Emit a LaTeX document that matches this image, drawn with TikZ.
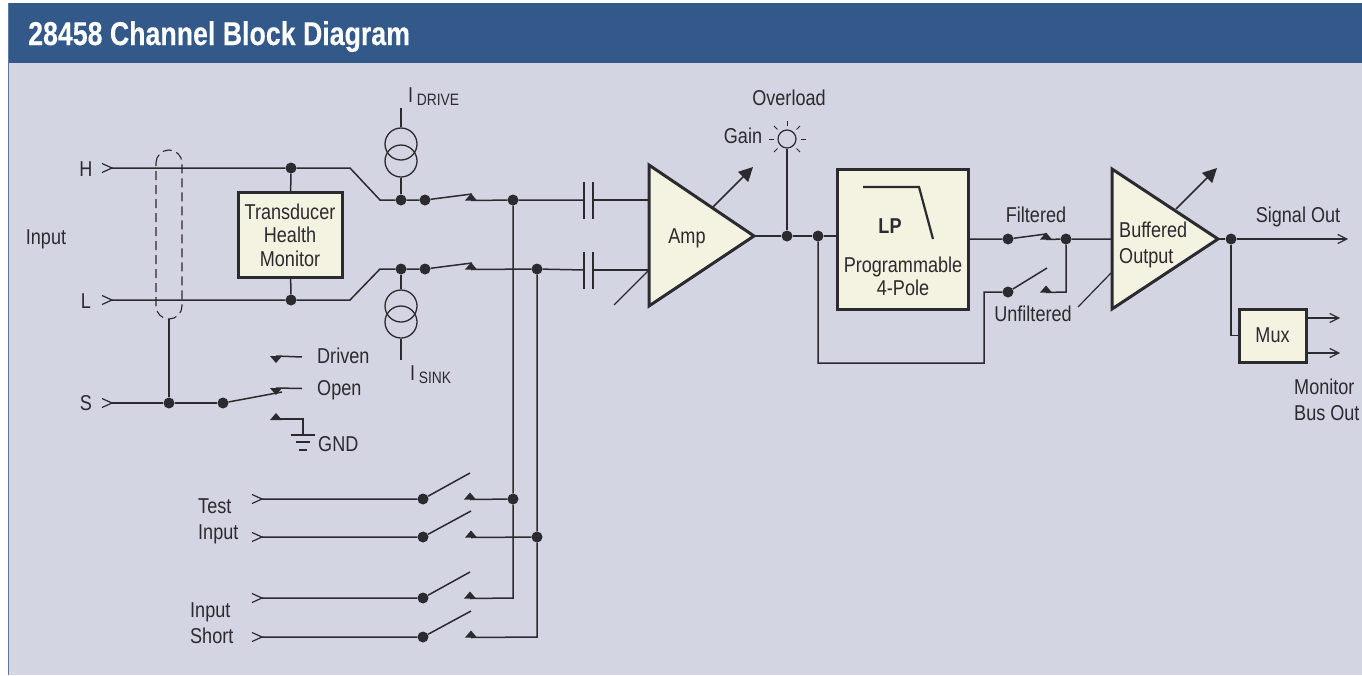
\documentclass[tikz,border=0pt]{standalone}
\usepackage{fontspec}
\setmainfont[FakeStretch=0.84]{Liberation Sans}
\newfontfamily\titlefont[FakeStretch=0.81,FakeBold=0.25]{Liberation Sans}
\usetikzlibrary{arrows.meta}
\definecolor{panelbg}{HTML}{D4D5E2}
\definecolor{headbg}{HTML}{33598A}
\definecolor{boxbg}{HTML}{F4F2E0}
\definecolor{ink}{HTML}{2B2A2E}
\tikzset{
  wire/.style={draw=ink,line width=1.5pt},
  block/.style={draw=ink,fill=boxbg,line width=3pt,line join=miter},
  dot/.style={circle,fill=ink,inner sep=0pt,minimum size=11pt},
  lbl/.style={text=ink,inner sep=0pt,font=\fontsize{21.5}{23.5}\selectfont},
  lblwide/.style={text=ink,inner sep=0pt,font=\fontsize{21.5}{26}\selectfont,align=left,anchor=west},
  source/.style={circle,draw=ink,line width=1.3pt,minimum size=32pt,inner sep=0pt},
  opentip/.style={-{Straight Barb[length=9pt,width=9pt,line width=1.2pt]}},
  filltip/.style={-{Triangle[length=14pt,width=14pt]}}
}
\begin{document}
\begin{tikzpicture}[x=1pt,y=-1pt]
  \useasboundingbox (0,0) rectangle (1362,675);
  \fill[white] (0,0) rectangle (1362,675);
  \fill[panelbg] (8,3) rectangle (1362,675);
  \fill[headbg] (8,3) rectangle (1362,63);
  \draw[headbg!80!white,line width=1pt] (8.5,3) -- (8.5,675);
  \node[anchor=base west,inner sep=0pt,text=white,font=\fontsize{33}{36}\titlefont\bfseries] (title) at (28,45) {28458 Channel Block Diagram};

  % input side
  \node[lbl] (inputlbl) at (46,239) {Input};
  \node[lbl] (hlbl) at (86,169) {H};
  \node[lbl] (llbl) at (86,301) {L};
  \node[lbl] (slbl) at (86,403) {S};
  \coordinate (hin) at (112,168);
  \coordinate (lin) at (112,300);
  \coordinate (sin) at (112,403);
  \coordinate (ta) at (262,499);
  \coordinate (tb) at (262,537);
  \coordinate (sa) at (262,598);
  \coordinate (sb) at (262,637);
  \foreach \p in {hin,lin,sin,ta,tb,sa,sb}
    \draw[ink,line width=1.2pt] (\p) ++(-10,-4.5) -- (\p) -- ++(-10,4.5);

  % shield
  \draw[ink,line width=1.1pt,dash pattern=on 9pt off 5pt] (156,163) arc[start angle=180,end angle=360,radius=13] -- (182,306) arc[start angle=0,end angle=180,radius=13] -- cycle;
  \coordinate (shield) at (169,319);

  \node[dot] (hj) at (291,168) {};
  \node[dot] (lj) at (291,300) {};
  \node[dot] (sj) at (169,403) {};
  \node[dot] (sk) at (223,403) {};
  \coordinate (hbend) at (350,168);
  \coordinate (lbend) at (350,300);
  \coordinate (hrow) at (380,200);
  \coordinate (lrow) at (380,269);
  \node[dot] (hd) at (401,200) {};
  \node[dot] (ld) at (401,269) {};
  \node[dot] (hs) at (425,200) {};
  \node[dot] (ls) at (425,269) {};
  \node[dot] (hbus) at (513,200) {};
  \node[dot] (lbus) at (537,269) {};

  \node[block,minimum width=104pt,minimum height=85pt,inner sep=0pt,lbl,align=center] (thm) at (290,235) {Transducer\\Health\\Monitor};
  \draw[wire] (hin) -- (hj) -- (hbend) -- (hrow) -- (hd) -- (hs);
  \draw[wire] (lin) -- (lj) -- (lbend) -- (lrow) -- (ld) -- (ls);
  \draw[wire] (hj) -- (thm);
  \draw[wire] (lj) -- (thm);
  \draw[wire] (shield) -- (sj);
  \draw[wire] (sin) -- (sj) -- (sk);

  % current sources
  \node[source] (da) at (401,144) {};
  \node[source] (db) at (401,161) {};
  \node[source] (sc) at (401,306) {};
  \node[source] (sd) at (401,322) {};
  \coordinate (dtop) at (401,108);
  \coordinate (send) at (401,360);
  \draw[wire] (dtop) -- (da);
  \draw[wire] (db) -- (hd);
  \draw[wire] (ld) -- (sc);
  \draw[wire] (sd) -- (send);
  \node[lbl,anchor=west] (idrive) at (408,97) {I\,\raisebox{-3pt}{\fontsize{16.5}{20}\selectfont DRIVE}};
  \node[lbl,anchor=west] (isink) at (410,375) {I\,\raisebox{-3pt}{\fontsize{16.5}{20}\selectfont SINK}};

  % contacts
  \coordinate (hc) at (471,200.5);
  \coordinate (lc) at (471,269.5);
  \coordinate (fc) at (1046,239.5);
  \coordinate (uc) at (1046,292.5);
  \coordinate (tac) at (470,499.5);
  \coordinate (tbc) at (471,537.5);
  \coordinate (sac) at (470,598.5);
  \coordinate (sbc) at (471,637.5);
  \coordinate (gc) at (276,420);
  \foreach \c in {hc,lc,fc,uc,tac,tbc,sac,sbc,gc}
    \fill[ink] (\c) ++(-6,0) -- ++(12,0) -- ++(-6,-7) -- cycle;
  \coordinate (dc) at (276,356);
  \coordinate (oc) at (276,388);
  \foreach \c in {dc,oc}
    \fill[ink] (\c) ++(-6,0) -- ++(12,0) -- ++(-6,7) -- cycle;

  % S switch
  \coordinate (sblade) at (282,392);
  \coordinate (dend) at (302,357);
  \coordinate (oend) at (302,388.5);
  \coordinate (gbend) at (303,419);
  \coordinate (gnd) at (303,435);
  \draw[wire] (sk) -- (sblade);
  \draw[wire] (dc) -- (dend);
  \draw[wire] (oc) -- (oend);
  \draw[wire] (gc) ++(0,-1) -- (gbend) -- (gnd);
  \draw[wire] (gnd) ++(-12,0) -- ++(24,0);
  \draw[wire] (gnd) ++(-7,7) -- ++(14,0);
  \draw[wire] (gnd) ++(-4,15) -- ++(8,0);
  \node[lbl,anchor=west] (drivenlbl) at (317,356) {Driven};
  \node[lbl,anchor=west] (openlbl) at (317,390) {Open};
  \node[lbl,anchor=west] (gndlbl) at (318,444) {GND};

  % test and short switches
  \node[dot] (tad) at (423,499) {};
  \node[dot] (tbd) at (423,537) {};
  \node[dot] (sad) at (423,598) {};
  \node[dot] (sbd) at (423,637) {};
  \node[dot] (tabus) at (513,499) {};
  \node[dot] (tbbus) at (537,537) {};
  \coordinate (sabus) at (513,598);
  \coordinate (sbbus) at (537,637);
  \coordinate (hblade) at (472,194);
  \coordinate (lblade) at (472,263);
  \coordinate (tablade) at (470,473);
  \coordinate (tbblade) at (471,511);
  \coordinate (sablade) at (470,572);
  \coordinate (sbblade) at (471,611);
  \draw[wire] (hs) -- (hblade);
  \draw[wire] (ls) -- (lblade);
  \draw[wire] (ta) -- (tad) -- (tablade);
  \draw[wire] (tb) -- (tbd) -- (tbblade);
  \draw[wire] (sa) -- (sad) -- (sablade);
  \draw[wire] (sb) -- (sbd) -- (sbblade);
  \draw[wire] (tac) -- (tabus);
  \draw[wire] (tbc) -- (tbbus);
  \draw[wire] (sac) -- (sabus) -- (tabus) -- (hbus);
  \draw[wire] (sbc) -- (sbbus) -- (tbbus) -- (lbus);
  \node[lblwide] (testlbl) at (198,521) {Test\\Input};
  \node[lblwide] (shortlbl) at (190,623) {Input\\Short};

  % amp
  \coordinate (capa) at (584,200);
  \coordinate (capb) at (593,200);
  \coordinate (capc) at (584,270);
  \coordinate (capd) at (593,270);
  \coordinate (ampa) at (649,200);
  \coordinate (ampb) at (649,270);
  \coordinate (amptip) at (754,236);
  \draw[wire] (hc) -- (hbus) -- (capa);
  \draw[wire] (lc) -- (lbus) -- (capc);
  \draw[wire] (capb) -- (ampa);
  \draw[wire] (capd) -- (ampb);
  \foreach \c in {capa,capb,capc,capd}
    \draw[wire] (\c) ++(0,-18) -- ++(0,37);
  \draw[block] (649,165) -- (amptip) -- (649,306) -- cycle;
  \node[lbl] (amplbl) at (687,238) {Amp};
  \coordinate (ampgain) at (614,305);
  \coordinate (ampgaina) at (648,271);
  \draw[wire,line width=1.2pt] (ampgain) -- (ampgaina);
  \coordinate (ampout) at (713,207);
  \coordinate (ampend) at (753,167);
  \draw[wire,filltip] (ampout) -- (ampend);

  % overload lamp
  \node[dot] (ovl) at (787,236) {};
  \node[dot] (byp) at (818,236) {};
  \node[circle,draw=ink,line width=1.2pt,minimum size=18pt,inner sep=0pt] (lamp) at (787,139) {};
  \foreach \a in {0,45,...,315}
    \draw[ink,line width=1pt] (lamp) ++(\a:13.5) -- ++(\a:5);
  \draw[wire] (lamp) -- (ovl);
  \node[lbl] (gainlbl) at (743,136) {Gain};
  \node[lbl] (overlbl) at (789,98) {Overload};

  % filter
  \node[block,minimum width=131pt,minimum height=140pt,inner sep=0pt] (lp) at (902.5,239) {};
  \coordinate (lpin) at (837,236);
  \coordinate (lpout) at (968,239);
  \draw[wire] (amptip) -- (ovl) -- (byp) -- (lpin);
  \draw[ink,line width=2.2pt] (863,187) -- (919,187) -- (933,239);
  \node[lbl,font=\fontsize{21.5}{23.5}\selectfont\bfseries] (lplbl) at (890,226) {LP};
  \node[lbl,align=center] (proglbl) at (903,276.5) {Programmable\\4-Pole};

  \node[dot] (fd) at (1008,239) {};
  \node[dot] (ud) at (1008,292) {};
  \node[dot] (fj) at (1066,239) {};
  \coordinate (bypa) at (818,363);
  \coordinate (bypb) at (984,363);
  \coordinate (bypc) at (984,292);
  \coordinate (fblade) at (1046,234);
  \coordinate (ublade) at (1047,268);
  \coordinate (fdrop) at (1066,292);
  \coordinate (bufin) at (1112,239);
  \draw[wire] (byp) -- (bypa) -- (bypb) -- (bypc) -- (ud) -- (ublade);
  \draw[wire] (lpout) -- (fd) -- (fblade);
  \draw[wire] (fc) -- (fj) -- (bufin);
  \draw[wire] (fj) -- (fdrop) -- (uc);
  \node[lbl] (filtlbl) at (1036,215) {Filtered};
  \node[lbl] (unfiltlbl) at (1033,314) {Unfiltered};

  % output buffer
  \coordinate (buftip) at (1218,239);
  \draw[block] (1112,169) -- (buftip) -- (1112,309) -- cycle;
  \node[lblwide] (buflbl) at (1119,245) {Buffered\\Output};
  \coordinate (bufout) at (1176,209);
  \coordinate (bufend) at (1217,168);
  \draw[wire,filltip] (bufout) -- (bufend);
  \coordinate (bufgain) at (1078,307);
  \coordinate (bufgaina) at (1111,273);
  \draw[wire,line width=1.2pt] (bufgain) -- (bufgaina);

  \node[dot] (outj) at (1231,239) {};
  \coordinate (sigend) at (1348,239);
  \draw[wire] (buftip) -- (outj);
  \draw[wire,opentip] (outj) -- (sigend);
  \node[lbl] (siglbl) at (1298,217) {Signal Out};
  \node[block,minimum width=67pt,minimum height=53pt,inner sep=0pt,lbl] (mux) at (1272.5,335.5) {Mux\hspace{8pt}};
  \coordinate (muxin) at (1231,335.5);
  \coordinate (muxa) at (1306,318);
  \coordinate (muxb) at (1306,353);
  \coordinate (muxaend) at (1340,318);
  \coordinate (muxbend) at (1340,353);
  \draw[wire] (outj) -- (muxin) -- (mux);
  \draw[wire,opentip] (muxa) -- (muxaend);
  \draw[wire,opentip] (muxb) -- (muxbend);
  \node[lblwide] (monlbl) at (1294,400) {Monitor\\Bus Out};
\end{tikzpicture}
\end{document}
